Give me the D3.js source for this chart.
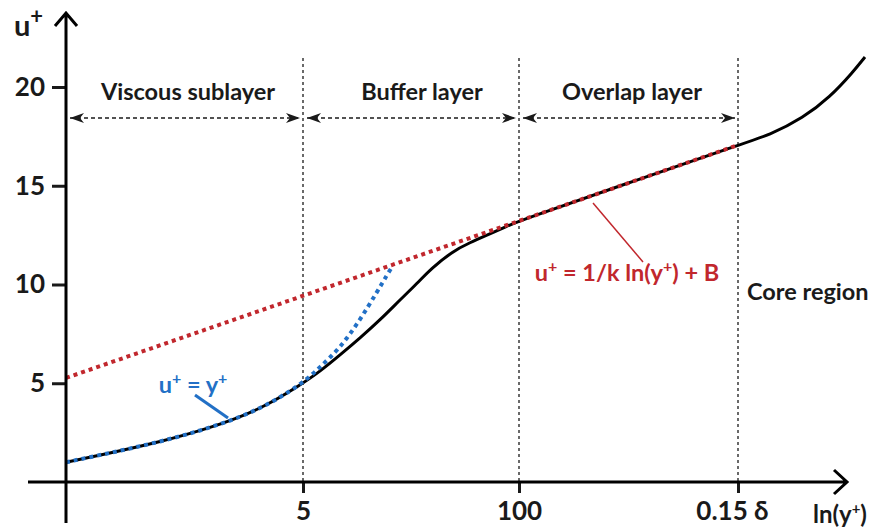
<!DOCTYPE html>
<html>
<head>
<meta charset="utf-8">
<script src="https://cdn.jsdelivr.net/npm/d3@7"></script>
<style>
  body { margin: 0; background: #fff; }
  text { font-family: Lato, "Open Sans", sans-serif; font-weight: 700; fill: #1a1a1a; }
</style>
</head>
<body>
<script>
// Data (x is a schematic ln(y+) position, y is u+)
let xTickPos = [2.37, 4.53, 6.72];
let xTickLabels = ["5", "100", "0.15 δ"];
let yTicks = [5, 10, 15, 20];

let layerBounds = [0, 2.37, 4.53, 6.72];
let layerNames = ["Viscous sublayer", "Buffer layer", "Overlap layer"];
let layerLabelX = [1.22, 3.56, 5.66];

// measured velocity profile
let profileX = [0, 0.44, 0.94, 1.44, 1.94, 2.37, 2.54, 2.74, 2.94, 3.14, 3.34, 3.54, 3.64, 3.87, 4.04, 4.21, 4.41, 4.53, 5.6, 6.72, 7.04, 7.37, 7.64, 7.87, 7.99];
let profileU = [1.0, 1.47, 2.03, 2.73, 3.65, 5.0, 5.6, 6.43, 7.29, 8.2, 9.22, 10.2, 10.75, 11.7, 12.12, 12.5, 12.95, 13.22, 15.1, 17.06, 17.57, 18.43, 19.49, 20.76, 21.52];

// u+ = y+
let linearX = [0, 0.44, 0.94, 1.44, 1.94, 2.37, 2.54, 2.74, 2.94, 3.11, 3.21, 3.26];
let linearU = [1.0, 1.47, 2.03, 2.73, 3.65, 5.0, 5.82, 6.78, 8.2, 9.62, 10.48, 10.89];

// log law
let logX = [0, 6.72];
let logU = [5.27, 17.06];

let blue = "#2270c6";
let red = "#c1272d";

function drawChart() {
  let width = 871;
  let height = 529;

  let x = d3.scaleLinear().domain([0, 8]).range([66, 866]);
  let y = d3.scaleLinear().domain([0, 20]).range([482, 87]);

  let svg = d3.select("body")
    .append("svg")
    .attr("width", width)
    .attr("height", height);

  let defs = svg.append("defs");
  defs.append("marker")
    .attr("id", "head")
    .attr("markerUnits", "userSpaceOnUse")
    .attr("markerWidth", 16)
    .attr("markerHeight", 12)
    .attr("refX", 15)
    .attr("refY", 6)
    .attr("orient", "auto-start-reverse")
    .append("path")
    .attr("d", "M1,1 L15,6 L1,11 L5,6 Z")
    .attr("fill", "#1a1a1a");

  // layer boundaries
  svg.selectAll(".bound")
    .data(layerBounds.slice(1))
    .enter()
    .append("line")
    .attr("x1", d => x(d))
    .attr("x2", d => x(d))
    .attr("y1", 58)
    .attr("y2", y(0))
    .attr("stroke", "#1a1a1a")
    .attr("stroke-width", 1.3)
    .attr("stroke-dasharray", "3,3");

  // layer spans
  let arrowY = y(18.43);
  for (let i = 0; i < layerNames.length; i++) {
    svg.append("line")
      .attr("x1", x(layerBounds[i]) + 4)
      .attr("x2", x(layerBounds[i + 1]) - 3)
      .attr("y1", arrowY)
      .attr("y2", arrowY)
      .attr("stroke", "#1a1a1a")
      .attr("stroke-width", 1.6)
      .attr("stroke-dasharray", "4,3")
      .attr("marker-start", "url(#head)")
      .attr("marker-end", "url(#head)");
    svg.append("text")
      .attr("x", x(layerLabelX[i]))
      .attr("y", y(19.34))
      .attr("text-anchor", "middle")
      .style("font-size", "23.5px")
      .text(layerNames[i]);
  }

  // smooth curves through the read-off points
  let curve = d3.line()
    .x(d => x(d[0]))
    .y(d => y(d[1]))
    .curve(d3.curveBasis);
  let straight = d3.line()
    .x(d => x(d[0]))
    .y(d => y(d[1]));

  svg.append("path")
    .attr("d", curve(d3.zip(profileX, profileU)))
    .attr("fill", "none")
    .attr("stroke", "#000")
    .attr("stroke-width", 3);

  svg.append("path")
    .attr("d", curve(d3.zip(linearX, linearU)))
    .attr("fill", "none")
    .attr("stroke", blue)
    .attr("stroke-width", 4)
    .attr("stroke-dasharray", "4,4");

  svg.append("path")
    .attr("d", straight(d3.zip(logX, logU)))
    .attr("fill", "none")
    .attr("stroke", red)
    .attr("stroke-width", 4)
    .attr("stroke-dasharray", "4,4");

  // axes
  let yAxis = svg.append("g")
    .attr("transform", `translate(${x(0)},0)`)
    .call(d3.axisLeft(y).tickValues(yTicks).tickSize(14).tickPadding(7));
  yAxis.select(".domain").remove();
  yAxis.selectAll("line").attr("stroke", "#1a1a1a").attr("stroke-width", 3);
  yAxis.selectAll("text").style("font-size", "26px").style("font-family", null).attr("fill", null);

  let xAxis = svg.append("g")
    .attr("transform", `translate(0,${y(0)})`)
    .call(d3.axisBottom(x).tickValues(xTickPos)
      .tickFormat((d, i) => xTickLabels[i]).tickSize(11).tickPadding(9));
  xAxis.select(".domain").remove();
  xAxis.selectAll("line").attr("stroke", "#1a1a1a").attr("stroke-width", 3);
  xAxis.selectAll("text").style("font-size", "26px").style("font-family", null).attr("fill", null)
    .attr("dx", (d, i) => i == 2 ? -6 : 0);

  // axis lines with open arrow heads
  svg.append("path")
    .attr("d", `M${x(0)},523 V13 M55,26 L${x(0)},13 L77,26`)
    .attr("fill", "none")
    .attr("stroke", "#000")
    .attr("stroke-width", 3);
  svg.append("path")
    .attr("d", `M28,${y(0)} H847 M834,${y(0) - 12} L847,${y(0)} L834,${y(0) + 12}`)
    .attr("fill", "none")
    .attr("stroke", "#000")
    .attr("stroke-width", 3);

  // axis titles
  let ut = svg.append("text").attr("x", 14).attr("y", 36).style("font-size", "29px");
  ut.append("tspan").text("u");
  ut.append("tspan").attr("dy", -12).style("font-size", "22px").text("+");

  let lt = svg.append("text").attr("x", 813).attr("y", 523).style("font-size", "24px");
  lt.append("tspan").text("ln(y");
  lt.append("tspan").attr("dy", -9).style("font-size", "15px").text("+");
  lt.append("tspan").attr("dy", 9).text(")");

  // annotations
  let bt = svg.append("text").attr("x", x(1.27)).attr("y", y(4.5))
    .attr("text-anchor", "middle").style("font-size", "23.5px").style("fill", blue);
  bt.append("tspan").text("u");
  bt.append("tspan").attr("dy", -9).style("font-size", "16px").text("+");
  bt.append("tspan").attr("dy", 9).text(" = y");
  bt.append("tspan").attr("dy", -9).style("font-size", "16px").text("+");

  svg.append("line")
    .attr("x1", x(1.29)).attr("y1", y(4.41))
    .attr("x2", x(1.62)).attr("y2", y(3.24))
    .attr("stroke", blue).attr("stroke-width", 3);

  svg.append("line")
    .attr("x1", x(5.27)).attr("y1", y(14.13))
    .attr("x2", x(5.77)).attr("y2", y(11.14))
    .attr("stroke", red).attr("stroke-width", 1.5);

  let rt = svg.append("text").attr("x", x(5.61)).attr("y", y(10.18))
    .attr("text-anchor", "middle").style("font-size", "23.5px").style("fill", red);
  rt.append("tspan").text("u");
  rt.append("tspan").attr("dy", -9).style("font-size", "16px").text("+");
  rt.append("tspan").attr("dy", 9).text(" = 1/k ln(y");
  rt.append("tspan").attr("dy", -9).style("font-size", "16px").text("+");
  rt.append("tspan").attr("dy", 9).text(") + B");

  svg.append("text")
    .attr("x", x(6.81)).attr("y", y(9.2))
    .style("font-size", "23.5px")
    .text("Core region");
}

drawChart();
</script>
</body>
</html>
